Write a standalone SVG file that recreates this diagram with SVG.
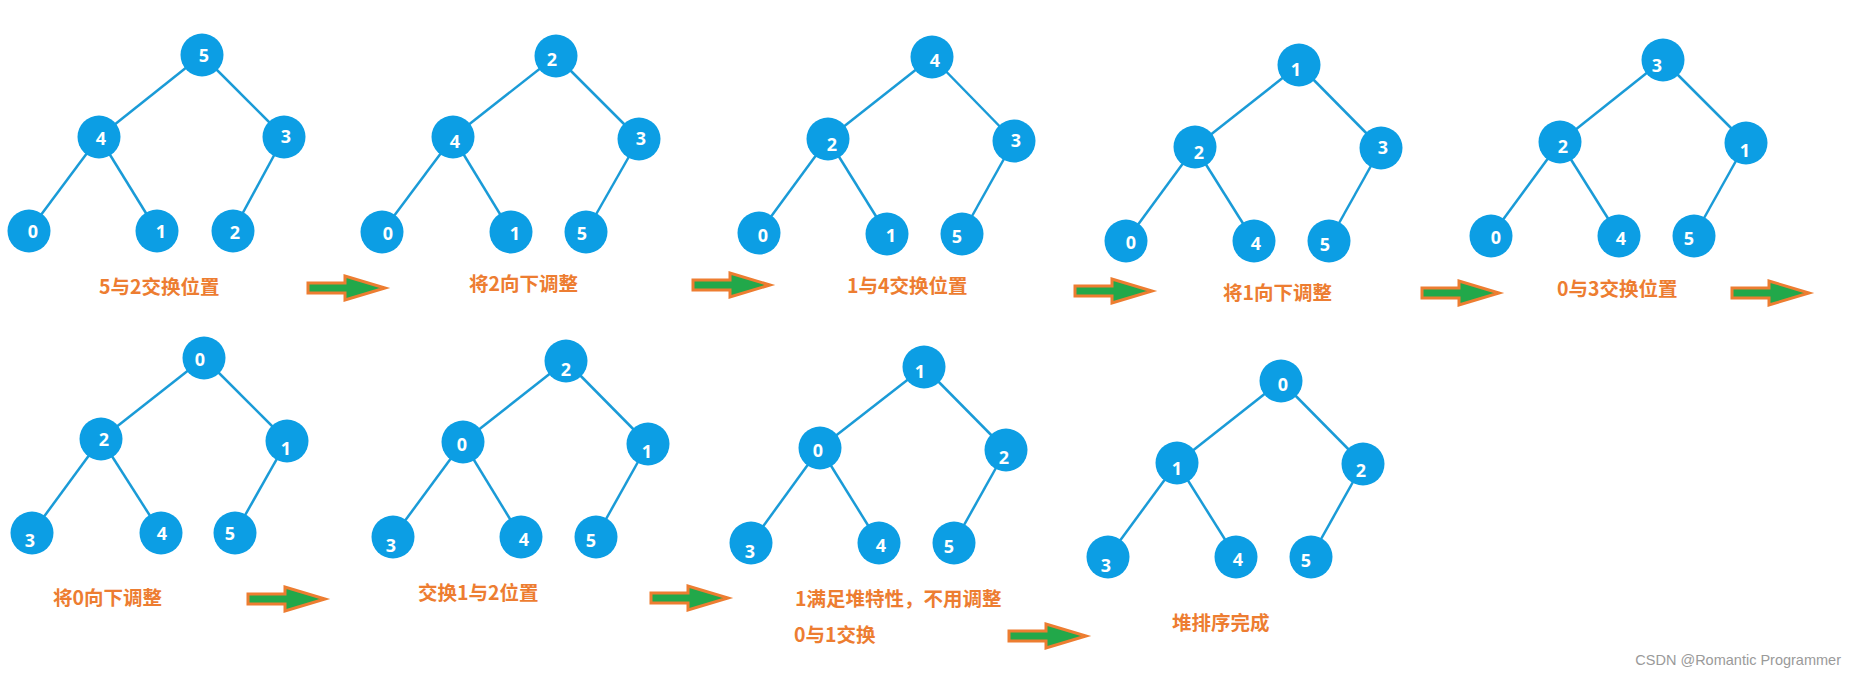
<svg xmlns="http://www.w3.org/2000/svg" width="1856" height="681" viewBox="0 0 1856 681">
<style>
.n circle{fill:#0C9EE4}
.n text{fill:#fff;font-family:"Noto Sans","Liberation Sans",sans-serif;font-weight:bold;font-size:18px;text-anchor:middle}
.e line{stroke:#1A9BD7;stroke-width:2.5}
.lbl{fill:#ED7D31;font-family:"Noto Sans CJK SC","Noto Sans",sans-serif;font-weight:bold;font-size:19.5px}
.arr{fill:#22A84A;stroke:#ED7D31;stroke-width:3;stroke-linejoin:miter}
.wm{fill:#9a9a9a;font-family:"Liberation Sans Narrow","Liberation Sans",Arial,sans-serif;font-size:14.5px;text-anchor:end}
</style>
<defs>
<path id="arrow" class="arr" d="M-77,-5 L-40,-5 L-40,-12 L0,0 L-40,12 L-40,5 L-77,5 Z"/>
</defs>
<rect width="1856" height="681" fill="#fff"/>

<g id="connectors" class="e">
<line x1="202" y1="55" x2="99" y2="137"/><line x1="202" y1="55" x2="284" y2="137"/>
<line x1="99" y1="137" x2="29" y2="231"/><line x1="99" y1="137" x2="157" y2="231"/><line x1="284" y1="137" x2="233" y2="231"/>
<line x1="556" y1="56" x2="453" y2="137"/><line x1="556" y1="56" x2="639" y2="139"/>
<line x1="453" y1="137" x2="382" y2="232"/><line x1="453" y1="137" x2="511" y2="232"/><line x1="639" y1="139" x2="586" y2="232"/>
<line x1="932" y1="57" x2="828" y2="139"/><line x1="932" y1="57" x2="1014" y2="141"/>
<line x1="828" y1="139" x2="759" y2="233"/><line x1="828" y1="139" x2="887" y2="234"/><line x1="1014" y1="141" x2="962" y2="234"/>
<line x1="1299" y1="65" x2="1195" y2="147"/><line x1="1299" y1="65" x2="1381" y2="148"/>
<line x1="1195" y1="147" x2="1126" y2="241"/><line x1="1195" y1="147" x2="1254" y2="241"/><line x1="1381" y1="148" x2="1329" y2="241"/>
<line x1="1663" y1="60" x2="1560" y2="142"/><line x1="1663" y1="60" x2="1746" y2="143"/>
<line x1="1560" y1="142" x2="1491" y2="236"/><line x1="1560" y1="142" x2="1619" y2="236"/><line x1="1746" y1="143" x2="1694" y2="236"/>
<line x1="204" y1="358" x2="101" y2="439"/><line x1="204" y1="358" x2="287" y2="441"/>
<line x1="101" y1="439" x2="32" y2="533"/><line x1="101" y1="439" x2="161" y2="533"/><line x1="287" y1="441" x2="235" y2="533"/>
<line x1="566" y1="361" x2="463" y2="442"/><line x1="566" y1="361" x2="648" y2="444"/>
<line x1="463" y1="442" x2="393" y2="537"/><line x1="463" y1="442" x2="521" y2="537"/><line x1="648" y1="444" x2="596" y2="537"/>
<line x1="924" y1="367" x2="820" y2="448"/><line x1="924" y1="367" x2="1006" y2="450"/>
<line x1="820" y1="448" x2="751" y2="543"/><line x1="820" y1="448" x2="879" y2="543"/><line x1="1006" y1="450" x2="954" y2="543"/>
<line x1="1281" y1="381" x2="1177" y2="463"/><line x1="1281" y1="381" x2="1363" y2="464"/>
<line x1="1177" y1="463" x2="1108" y2="557"/><line x1="1177" y1="463" x2="1236" y2="557"/><line x1="1363" y1="464" x2="1311" y2="557"/>
</g>

<g id="tree1" class="n">
<circle cx="202" cy="55" r="21.5"/><text x="204" y="62">5</text>
<circle cx="99" cy="137" r="21.5"/><text x="101" y="145">4</text>
<circle cx="284" cy="137" r="21.5"/><text x="286" y="143">3</text>
<circle cx="29" cy="231" r="21.5"/><text x="33" y="238">0</text>
<circle cx="157" cy="231" r="21.5"/><text x="161" y="238">1</text>
<circle cx="233" cy="231" r="21.5"/><text x="235" y="239">2</text>
</g>
<g id="tree2" class="n">
<circle cx="556" cy="56" r="21.5"/><text x="552" y="66">2</text>
<circle cx="453" cy="137" r="21.5"/><text x="455" y="148">4</text>
<circle cx="639" cy="139" r="21.5"/><text x="641" y="145">3</text>
<circle cx="382" cy="232" r="21.5"/><text x="388" y="240">0</text>
<circle cx="511" cy="232" r="21.5"/><text x="515" y="240">1</text>
<circle cx="586" cy="232" r="21.5"/><text x="582" y="240">5</text>
</g>
<g id="tree3" class="n">
<circle cx="932" cy="57" r="21.5"/><text x="935" y="67">4</text>
<circle cx="828" cy="139" r="21.5"/><text x="832" y="151">2</text>
<circle cx="1014" cy="141" r="21.5"/><text x="1016" y="147">3</text>
<circle cx="759" cy="233" r="21.5"/><text x="763" y="242">0</text>
<circle cx="887" cy="234" r="21.5"/><text x="891" y="242">1</text>
<circle cx="962" cy="234" r="21.5"/><text x="957" y="243">5</text>
</g>
<g id="tree4" class="n">
<circle cx="1299" cy="65" r="21.5"/><text x="1296" y="76">1</text>
<circle cx="1195" cy="147" r="21.5"/><text x="1199" y="159">2</text>
<circle cx="1381" cy="148" r="21.5"/><text x="1383" y="154">3</text>
<circle cx="1126" cy="241" r="21.5"/><text x="1131" y="249">0</text>
<circle cx="1254" cy="241" r="21.5"/><text x="1256" y="250">4</text>
<circle cx="1329" cy="241" r="21.5"/><text x="1325" y="251">5</text>
</g>
<g id="tree5" class="n">
<circle cx="1663" cy="60" r="21.5"/><text x="1657" y="72">3</text>
<circle cx="1560" cy="142" r="21.5"/><text x="1563" y="153">2</text>
<circle cx="1746" cy="143" r="21.5"/><text x="1745" y="157">1</text>
<circle cx="1491" cy="236" r="21.5"/><text x="1496" y="244">0</text>
<circle cx="1619" cy="236" r="21.5"/><text x="1621" y="245">4</text>
<circle cx="1694" cy="236" r="21.5"/><text x="1689" y="245">5</text>
</g>
<g id="tree6" class="n">
<circle cx="204" cy="358" r="21.5"/><text x="200" y="366">0</text>
<circle cx="101" cy="439" r="21.5"/><text x="104" y="446">2</text>
<circle cx="287" cy="441" r="21.5"/><text x="286" y="455">1</text>
<circle cx="32" cy="533" r="21.5"/><text x="30" y="547">3</text>
<circle cx="161" cy="533" r="21.5"/><text x="162" y="540">4</text>
<circle cx="235" cy="533" r="21.5"/><text x="230" y="540">5</text>
</g>
<g id="tree7" class="n">
<circle cx="566" cy="361" r="21.5"/><text x="566" y="376">2</text>
<circle cx="463" cy="442" r="21.5"/><text x="462" y="451">0</text>
<circle cx="648" cy="444" r="21.5"/><text x="647" y="458">1</text>
<circle cx="393" cy="537" r="21.5"/><text x="391" y="552">3</text>
<circle cx="521" cy="537" r="21.5"/><text x="524" y="546">4</text>
<circle cx="596" cy="537" r="21.5"/><text x="591" y="547">5</text>
</g>
<g id="tree8" class="n">
<circle cx="924" cy="367" r="21.5"/><text x="920" y="378">1</text>
<circle cx="820" cy="448" r="21.5"/><text x="818" y="457">0</text>
<circle cx="1006" cy="450" r="21.5"/><text x="1004" y="464">2</text>
<circle cx="751" cy="543" r="21.5"/><text x="750" y="558">3</text>
<circle cx="879" cy="543" r="21.5"/><text x="881" y="552">4</text>
<circle cx="954" cy="543" r="21.5"/><text x="949" y="553">5</text>
</g>
<g id="tree9" class="n">
<circle cx="1281" cy="381" r="21.5"/><text x="1283" y="391">0</text>
<circle cx="1177" cy="463" r="21.5"/><text x="1177" y="475">1</text>
<circle cx="1363" cy="464" r="21.5"/><text x="1361" y="477">2</text>
<circle cx="1108" cy="557" r="21.5"/><text x="1106" y="572">3</text>
<circle cx="1236" cy="557" r="21.5"/><text x="1238" y="566">4</text>
<circle cx="1311" cy="557" r="21.5"/><text x="1306" y="567">5</text>
</g>

<g id="labels">
<text class="lbl" x="99" y="294">5与2交换位置</text>
<text class="lbl" x="469" y="291">将2向下调整</text>
<text class="lbl" x="847" y="293">1与4交换位置</text>
<text class="lbl" x="1223" y="300">将1向下调整</text>
<text class="lbl" x="1557" y="296">0与3交换位置</text>
<text class="lbl" x="53" y="605">将0向下调整</text>
<text class="lbl" x="418" y="600">交换1与2位置</text>
<text class="lbl" x="795" y="606">1满足堆特性，不用调整</text>
<text class="lbl" x="794" y="642">0与1交换</text>
<text class="lbl" x="1172" y="630">堆排序完成</text>
</g>

<g id="arrows">
<use href="#arrow" transform="translate(385,288)"/>
<use href="#arrow" transform="translate(770,285)"/>
<use href="#arrow" transform="translate(1152,291)"/>
<use href="#arrow" transform="translate(1499,293)"/>
<use href="#arrow" transform="translate(1809,293)"/>
<use href="#arrow" transform="translate(325,599)"/>
<use href="#arrow" transform="translate(728,598)"/>
<use href="#arrow" transform="translate(1086,636)"/>
</g>

<text class="wm" x="1841" y="665">CSDN @Romantic Programmer</text>
</svg>
